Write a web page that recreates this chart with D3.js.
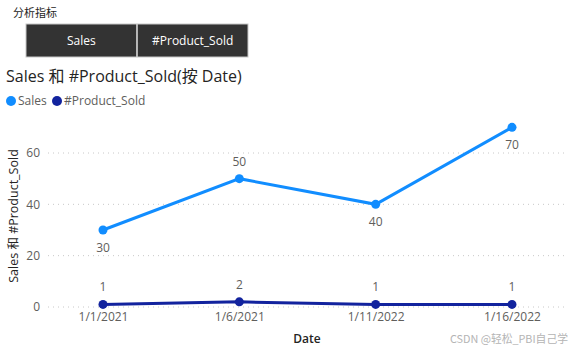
<!DOCTYPE html>
<html>
<head>
<meta charset="utf-8">
<script src="https://cdn.jsdelivr.net/npm/d3@7"></script>
<style>
  body { margin: 0; background: #fff; }
  svg { font-family: "Open Sans", "Noto Sans", "Noto Sans CJK SC", sans-serif; }
</style>
</head>
<body>
<div id="chart"></div>
<script>
// chart data
var dates = ["1/1/2021", "1/6/2021", "1/11/2022", "1/16/2022"];
var sales = [30, 50, 40, 70];
var productSold = [1, 2, 1, 1];
var yTicks = [0, 20, 40, 60];
// label placement per point (above / below)
var salesLabelPos = ["below", "above", "below", "below"];
var buttons = ["Sales", "#Product_Sold"];

var W = 572, H = 351;
var svg = d3.select("#chart").append("svg")
    .attr("width", W).attr("height", H);

// slicer header and buttons
svg.append("text").attr("x", 13).attr("y", 17)
    .attr("font-size", 11).attr("fill", "#252423")
    .attr("font-family", "Noto Sans CJK SC")
    .text("分析指标");

var bx = d3.scaleBand().domain(buttons).range([26, 248]).paddingInner(0.005);
var btn = svg.selectAll(".btn").data(buttons).enter().append("g")
    .attr("transform", function(d) { return "translate(" + bx(d) + ",24)"; });
btn.append("rect")
    .attr("width", bx.bandwidth()).attr("height", 33)
    .attr("fill", "#333333").attr("stroke", "#c8c8c8").attr("stroke-width", 1);
btn.append("text")
    .attr("x", bx.bandwidth() / 2).attr("y", 21)
    .attr("text-anchor", "middle").attr("font-size", 12).attr("fill", "#fff")
    .text(function(d) { return d; });

// title
svg.append("text").attr("x", 6).attr("y", 82)
    .attr("font-size", 16).attr("fill", "#252423")
    .text("Sales 和 #Product_Sold(按 Date)");

// legend
var legend = [["Sales", "#118DFF", 11], ["#Product_Sold", "#12239E", 57]];
legend.forEach(function(l) {
    svg.append("circle").attr("cx", l[2]).attr("cy", 101).attr("r", 5).attr("fill", l[1]);
    svg.append("text").attr("x", l[2] + 7).attr("y", 105)
        .attr("font-size", 12).attr("fill", "#605e5c").text(l[0]);
});

// scales
var x = d3.scalePoint().domain(dates).range([103, 512]);
var y = d3.scaleLinear().domain([0, 60]).range([307, 153]);

// gridlines
svg.append("g").selectAll("line").data(yTicks).enter().append("line")
    .attr("x1", 48).attr("x2", 565)
    .attr("y1", function(d) { return y(d); }).attr("y2", function(d) { return y(d); })
    .attr("stroke", "#c8c8c8").attr("stroke-dasharray", "1,4").attr("stroke-width", 1);

// y axis
var yAxis = d3.axisLeft(y).tickValues(yTicks).tickSize(0).tickPadding(0);
var gy = svg.append("g").attr("transform", "translate(40,0)").call(yAxis);
gy.select(".domain").remove();
gy.selectAll("text").attr("font-size", 12).attr("fill", "#605e5c")
    .attr("font-family", "Open Sans, sans-serif");

// x axis
var xAxis = d3.axisBottom(x).tickSize(0).tickPadding(0);
var gx = svg.append("g").attr("transform", "translate(0,312)").call(xAxis);
gx.select(".domain").remove();
gx.selectAll("text").attr("font-size", 12).attr("fill", "#605e5c")
    .attr("font-family", "Open Sans, sans-serif");

// axis titles
svg.append("text").attr("x", 307).attr("y", 343)
    .attr("text-anchor", "middle").attr("font-size", 12).attr("fill", "#252423")
    .attr("font-weight", 600).text("Date");
svg.append("text")
    .attr("transform", "translate(18,216) rotate(-90)")
    .attr("text-anchor", "middle").attr("font-size", 12.5).attr("fill", "#252423")
    .text("Sales 和 #Product_Sold");

// lines
var line = d3.line()
    .x(function(d, i) { return x(dates[i]); })
    .y(function(d) { return y(d); });

function drawSeries(vals, color, labelPos) {
    svg.append("path").datum(vals)
        .attr("d", line).attr("fill", "none")
        .attr("stroke", color).attr("stroke-width", 3);
    svg.append("g").selectAll("circle").data(vals).enter().append("circle")
        .attr("cx", function(d, i) { return x(dates[i]); })
        .attr("cy", function(d) { return y(d); })
        .attr("r", 4.5).attr("fill", color);
    svg.append("g").selectAll("text").data(vals).enter().append("text")
        .attr("x", function(d, i) { return x(dates[i]); })
        .attr("y", function(d, i) { return labelPos[i] === "above" ? y(d) - 13 : y(d) + 22; })
        .attr("text-anchor", "middle").attr("font-size", 12).attr("fill", "#605e5c")
        .text(function(d) { return d; });
}
drawSeries(sales, "#118DFF", salesLabelPos);
drawSeries(productSold, "#12239E", ["above", "above", "above", "above"]);

// watermark
svg.append("text").attr("x", 568).attr("y", 343)
    .attr("text-anchor", "end").attr("font-size", 10.8).attr("fill", "#b4b4b4")
    .attr("font-family", "Noto Sans CJK SC")
    .text("CSDN @轻松_PBI自己学");
</script>
</body>
</html>
